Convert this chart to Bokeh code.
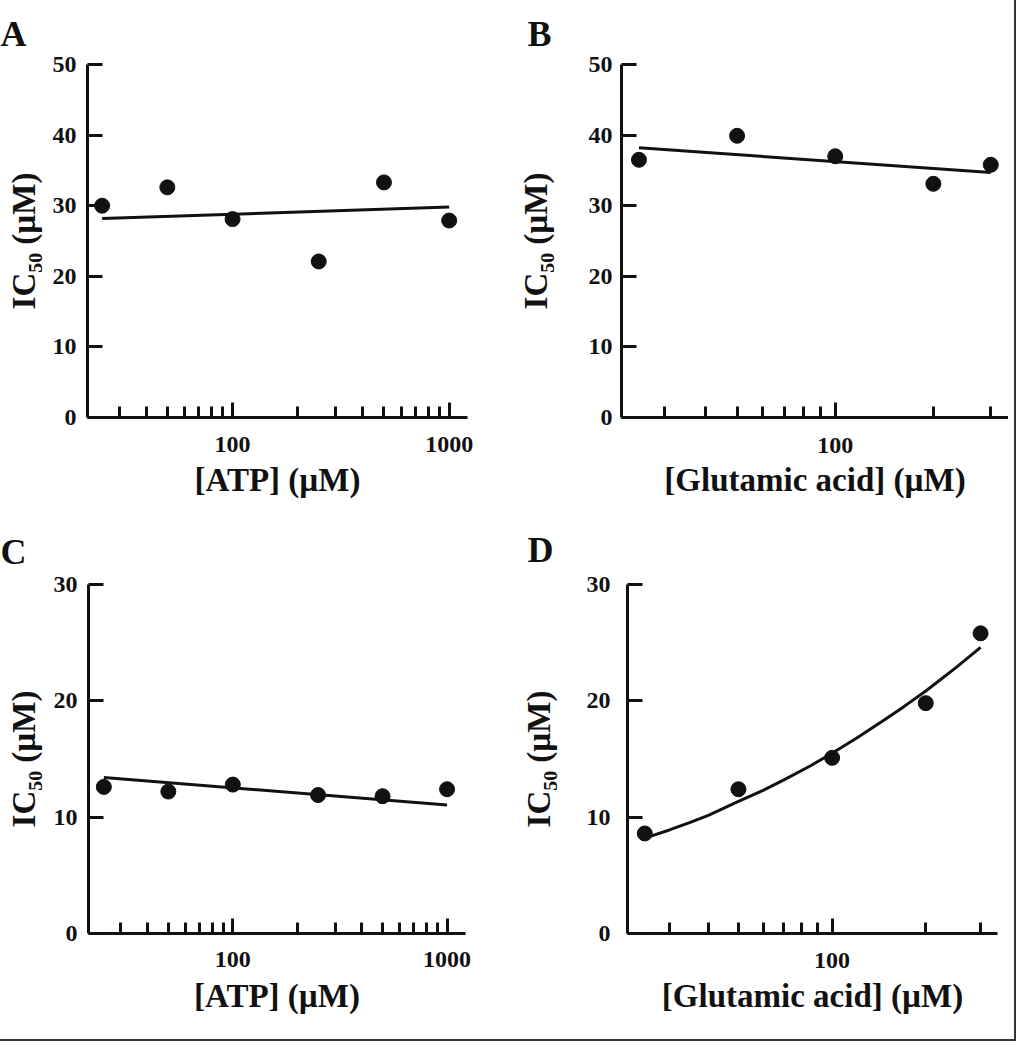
from bokeh.plotting import figure
from bokeh.layouts import column, row
from bokeh.models import Range1d, FixedTicker, PrintfTickFormatter
from bokeh.embed import file_html
from bokeh.resources import INLINE

# ---------------- data ----------------
atp_conc = [25, 50, 100, 250, 500, 1000]
glu_conc = [25, 50, 100, 200, 300]

ic50_A = [30.0, 32.6, 28.1, 22.1, 33.3, 27.9]
fit_A_x = [25, 1000]
fit_A_y = [28.2, 29.8]

ic50_B = [36.5, 39.9, 37.0, 33.1, 35.8]
fit_B_x = [25, 300]
fit_B_y = [38.2, 34.7]

ic50_C = [12.6, 12.2, 12.8, 11.9, 11.8, 12.4]
fit_C_x = [25, 1000]
fit_C_y = [13.4, 11.05]

ic50_D = [8.6, 12.4, 15.1, 19.8, 25.8]
fit_D_x = [26, 30, 35, 40, 50, 60, 70, 85, 100, 120, 145, 170, 200, 250, 300]
fit_D_y = [8.35, 8.9, 9.55, 10.15, 11.35, 12.3, 13.2, 14.4, 15.5, 16.8,
           18.25, 19.5, 20.85, 22.85, 24.6]

atp_major = [100, 1000]
atp_minor = [30, 40, 50, 60, 70, 80, 90, 200, 300, 400, 500, 600, 700, 800, 900]
glu_major = [100]
glu_minor = [30, 40, 50, 60, 70, 80, 90, 200, 300]
yticks_50 = [0, 10, 20, 30, 40, 50]
yticks_30 = [0, 10, 20, 30]

FONT = "Liberation Serif"
INK = "#111111"


def panel(letter, xs, ys, fx, fy, xr, yr, yticks, xmajor, xminor, xlabel,
          w, h, bl, br, bt, bb, t_off, t_stand, y_ls, y_als, x_ls, x_als):
    p = figure(width=w, height=h, x_axis_type="log",
               x_range=Range1d(*xr), y_range=Range1d(*yr),
               output_backend="svg", toolbar_location=None,
               min_border_left=bl, min_border_right=br,
               min_border_top=bt, min_border_bottom=bb,
               title=letter)
    p.title.align = "left"
    p.title.offset = t_off
    p.title.standoff = t_stand
    p.title.text_font = FONT
    p.title.text_font_size = "36px"
    p.title.text_font_style = "bold"
    p.title.text_color = INK
    p.xgrid.visible = False
    p.ygrid.visible = False
    p.outline_line_color = None
    p.background_fill_color = "white"
    p.border_fill_color = "white"

    for ax in (p.xaxis[0], p.yaxis[0]):
        ax.axis_line_width = 3
        ax.axis_line_color = INK
        ax.major_tick_line_width = 3
        ax.major_tick_line_color = INK
        ax.minor_tick_line_width = 3
        ax.minor_tick_line_color = INK
        ax.major_tick_in = 15
        ax.major_tick_out = 0
        ax.minor_tick_in = 11
        ax.minor_tick_out = 0
        ax.major_label_text_font = FONT
        ax.major_label_text_font_style = "bold"
        ax.major_label_text_font_size = "24px"
        ax.major_label_text_color = INK
        ax.axis_label_text_font = FONT
        ax.axis_label_text_font_style = "bold"
        ax.axis_label_text_font_size = "33px"
        ax.axis_label_text_color = INK

    xa = p.xaxis[0]
    xa.ticker = FixedTicker(ticks=xmajor, minor_ticks=xminor)
    xa.formatter = PrintfTickFormatter(format="%d")
    xa.axis_label = xlabel
    xa.major_label_standoff = x_ls
    xa.axis_label_standoff = x_als

    ya = p.yaxis[0]
    ya.ticker = FixedTicker(ticks=yticks)
    ya.minor_tick_line_color = None
    ya.axis_label = "IC\u2085\u2080 (\u00b5M)"
    ya.major_label_standoff = y_ls
    ya.axis_label_standoff = y_als

    p.line(fx, fy, line_width=3, line_color=INK)
    p.scatter(xs, ys, marker="circle", size=15, fill_color=INK, line_color=INK)
    return p


pA = panel("A", atp_conc, ic50_A, fit_A_x, fit_A_y, (21.4, 1215), (0, 50), yticks_50,
           atp_major, atp_minor, "[ATP] (\u00b5M)",
           504, 512, 87, 37, 63, 95, -87, 22, 11, 8, 19, 7)
pB = panel("B", glu_conc, ic50_B, fit_B_x, fit_B_y, (22.1, 340), (0, 50), yticks_50,
           glu_major, glu_minor, "[Glutamic acid] (\u00b5M)",
           504, 512, 117, 0, 63, 95, -94, 22, 9, 32, 20, 6)
pC = panel("C", atp_conc, ic50_C, fit_C_x, fit_C_y, (21.2, 1219), (0, 30), yticks_30,
           atp_major, atp_minor, "[ATP] (\u00b5M)",
           504, 521, 88, 39, 68, 100, -88, 26, 11, 9, 18, 8)
pD = panel("D", glu_conc, ic50_D, fit_D_x, fit_D_y, (22.0, 340), (0, 30), yticks_30,
           glu_major, glu_minor, "[Glutamic acid] (\u00b5M)",
           504, 521, 123, 11, 72, 98, -100, 30, 17, 27, 19, 7)

layout = column(row(pA, pB), row(pC, pD),
                styles={"outline": "2px solid #333333", "outline-offset": "6px"})

open("out.html", "w").write(file_html(layout, INLINE))
